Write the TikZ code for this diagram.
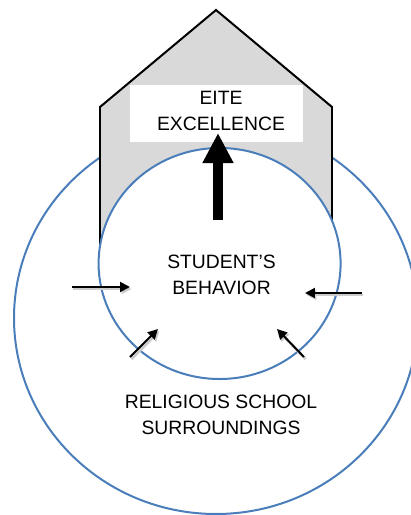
\documentclass[tikz,border=0pt]{standalone}
\usepackage{fontspec}
\setmainfont{Liberation Sans}
\usetikzlibrary{arrows.meta,positioning}
\definecolor{ringblue}{HTML}{4A7EBB}
\definecolor{roofgray}{HTML}{D9D9D9}
\tikzset{
  ring/.style={draw=ringblue, line width=0.04cm},
  label/.style={align=center, inner sep=0pt, font=\fontsize{11}{14.6}\selectfont},
  push/.style={-{Triangle[length=0.2cm,width=0.2cm]}, line width=0.04cm,
    preaction={draw=black!20, line width=0.05cm, transform canvas={shift={(0.03cm,-0.04cm)}}}}
}

\begin{document}
\begin{tikzpicture}[x=0.02cm,y=-0.02cm]
\clip (0,0) rectangle (411,515);
% outer ring
\draw [ring] (216,318) ellipse [x radius=202, y radius=196];
% house
\filldraw [fill=roofgray, draw=black, line width=0.04cm] (100,252) -- (100,107) -- (216,10) -- (332,107) -- (332,224);
% inner ring
\filldraw [ring, fill=white] (219.6,263.5) ellipse [x radius=121, y radius=115.5];
\node [fill=white, minimum width=3.46cm, minimum height=1.14cm, inner sep=0pt] (goalbox) at (216.7,113.7) {};
\node [label] (goal) at (221,111) {EITE\\EXCELLENCE};
\coordinate (base) at (218,220);
\coordinate (tip) at (218,133);
\draw [-{Triangle[length=0.6cm,width=0.58cm]}, line width=0.2cm] (base) -- (tip);
\node [label] (behavior) at (221.5,275) {STUDENT’S\\BEHAVIOR};
\node [label] (school) at (221,414.7) {RELIGIOUS SCHOOL\\SURROUNDINGS};
% influences
\coordinate (w0) at (72,287);
\coordinate (w1) at (130,287);
\coordinate (e0) at (362,293);
\coordinate (e1) at (305,293);
\coordinate (sw0) at (130,357);
\coordinate (sw1) at (158,329);
\coordinate (se0) at (304,357);
\coordinate (se1) at (277,329);
\draw [push] (w0) -- (w1);
\draw [push] (e0) -- (e1);
\draw [push] (sw0) -- (sw1);
\draw [push] (se0) -- (se1);
\end{tikzpicture}
\end{document}
